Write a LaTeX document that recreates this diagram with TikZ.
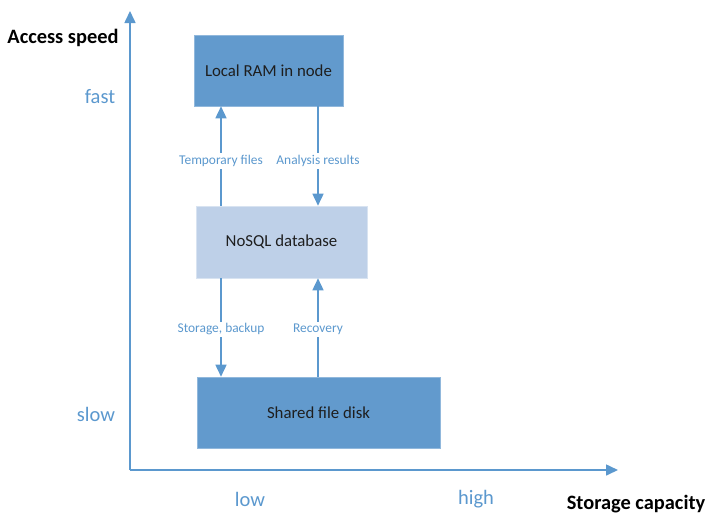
\documentclass[tikz,border=0pt]{standalone}
\usepackage{fontspec}
\setmainfont{Carlito}
\usetikzlibrary{arrows.meta}
\definecolor{lineblue}{RGB}{91,152,206}
\definecolor{boxdark}{RGB}{98,154,205}
\definecolor{boxlight}{RGB}{190,208,232}
\definecolor{textdark}{RGB}{30,30,30}
\tikzset{
  axis/.style={draw=lineblue, line width=1.6pt, -{Triangle[width=11pt,length=12pt]}},
  conn/.style={draw=lineblue, line width=1.6pt, -{Triangle[width=11pt,length=12pt]}},
  boxd/.style={fill=boxdark, draw=boxdark!70!white, line width=0.6pt, text=textdark, font=\fontsize{16.8}{18}\selectfont, inner sep=0pt},
  boxl/.style={fill=boxlight, draw=boxlight!60!white, line width=0.6pt, text=textdark, font=\fontsize{16.8}{18}\selectfont, inner sep=0pt},
  lab/.style={fill=white, text=lineblue, font=\fontsize{13.4}{15}\selectfont, inner sep=2pt},
  tick/.style={text=lineblue, font=\fontsize{20.5}{22}\selectfont, inner sep=0pt},
  axtitle/.style={text=black, font=\bfseries\fontsize{20.4}{22}\selectfont, inner sep=0pt}
}
\begin{document}
\begin{tikzpicture}[x=1pt,y=-1pt]
\useasboundingbox (0,0) rectangle (707,515);
\coordinate (origin) at (130,470);
\coordinate (ytop) at (130,11);
\coordinate (xend) at (618,470);
\draw[axis] (origin) -- (ytop);
\draw[axis] (origin) -- (xend);

\node[axtitle] (yt) at (63,38) {Access speed};
\node[axtitle] (xt) at (636,504) {Storage capacity};
\node[tick] (fast) at (100,97) {fast};
\node[tick] (slow) at (96,414) {slow};
\node[tick] (low) at (250,499) {low};
\node[tick] (high) at (476,499) {high};

\node[boxd, minimum width=149pt, minimum height=71pt] (ram) at (268.5,70.5) {Local RAM in node};
\node[boxl, minimum width=171pt, minimum height=72pt] (nosql) at (281.5,242) {NoSQL database};
\node[boxd, minimum width=243pt, minimum height=71pt] (disk) at (318.5,412.5) {Shared file disk};

\coordinate (cl) at (221,0);
\coordinate (cr) at (318,0);

\draw[conn] (nosql.north -| cl) -- (ram.south -| cl)
  node[lab, pos=0.45] (l1) {Temporary files};
\draw[conn] (ram.south -| cr) -- (nosql.north -| cr)
  node[lab, pos=0.55] (l2) {Analysis results};
\draw[conn] (nosql.south -| cl) -- (disk.north -| cl)
  node[lab, pos=0.52] (l3) {Storage, backup};
\draw[conn] (disk.north -| cr) -- (nosql.south -| cr)
  node[lab, pos=0.48] (l4) {Recovery};
\end{tikzpicture}
\end{document}
